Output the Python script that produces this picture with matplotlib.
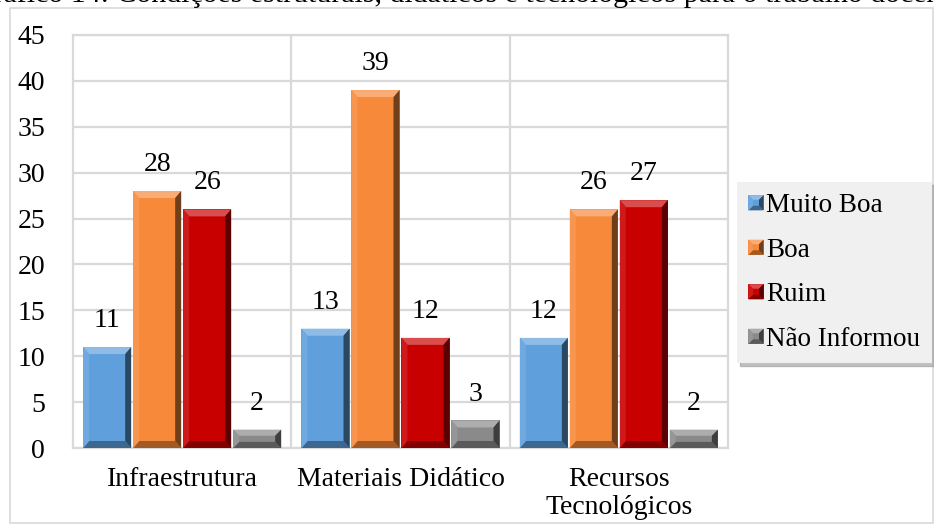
import matplotlib.pyplot as plt
import matplotlib.colors as mcolors
from matplotlib.patches import Polygon, Rectangle
from matplotlib.legend_handler import HandlerBase
import numpy as np

plt.rcParams['font.family'] = ['Liberation Serif', 'DejaVu Serif']

titulo = 'Gráfico 14: Condições estruturais, didáticos e tecnológicos para o trabalho docente'
categorias = ['Infraestrutura', 'Materiais Didático', 'Recursos\nTecnológicos']
series = ['Muito Boa', 'Boa', 'Ruim', 'Não Informou']
muito_boa = [11, 13, 12]
boa = [28, 39, 26]
ruim = [26, 12, 27]
nao_informou = [2, 3, 2]
cores = ['#5f9fdc', '#f7893a', '#c80000', '#8a8a8a']

valores = [muito_boa, boa, ruim, nao_informou]
FS = 20


def mix(cor, alvo, f):
    c = np.array(mcolors.to_rgb(cor))
    t = np.array(mcolors.to_rgb(alvo))
    return tuple(c + (t - c) * f)


def bevel_polys(x0, y0, w, h, bx, by):
    by = min(by, h / 3.0)
    x1, y1 = x0 + w, y0 + h
    return {
        'top': [(x0, y1), (x1, y1), (x1 - bx, y1 - by), (x0 + bx, y1 - by)],
        'bottom': [(x0, y0), (x1, y0), (x1 - bx, y0 + by), (x0 + bx, y0 + by)],
        'left': [(x0, y0), (x0 + bx, y0 + by), (x0 + bx, y1 - by), (x0, y1)],
        'right': [(x1, y0), (x1 - bx, y0 + by), (x1 - bx, y1 - by), (x1, y1)],
    }


def shades(cor):
    return {
        'top': mix(cor, 'white', 0.30),
        'left': mix(cor, 'white', 0.10),
        'right': mix(cor, 'black', 0.55),
        'bottom': mix(cor, 'black', 0.35),
    }


class BevelHandler(HandlerBase):
    def create_artists(self, legend, orig_handle, xdescent, ydescent,
                       width, height, fontsize, trans):
        cor = orig_handle.get_facecolor()
        s = min(width, height)
        x0 = width - s - xdescent
        y0 = (height - s) / 2 - ydescent
        arts = [Rectangle((x0, y0), s, s, facecolor=cor, edgecolor='none', transform=trans)]
        sh = shades(cor)
        for k, pts in bevel_polys(x0, y0, s, s, s * 0.3, s * 0.3).items():
            arts.append(Polygon(pts, closed=True, facecolor=sh[k], edgecolor='none', transform=trans))
        return arts


fig = plt.figure(figsize=(9.34, 5.27), dpi=100)
W, H = 934, 527
ax = fig.add_axes([73 / W, 1 - 448 / H, (728 - 73) / W, (448 - 35) / H])

x = np.arange(len(categorias))
passo = 0.229
largura = 0.220
ax.set_xlim(-0.5, 2.5)
ax.set_ylim(0, 45)

# bevel size in data units (about 7 px)
bx = 6 / (ax.bbox.width / 3.0)
by = 7 / (ax.bbox.height / 45.0)

barras = []
for i, (nome, vals, cor) in enumerate(zip(series, valores, cores)):
    pos = x + (i - 1.5) * passo
    b = ax.bar(pos, vals, largura, color=cor, label=nome, zorder=3)
    barras.append(b)
    sh = shades(cor)
    for rect, v in zip(b, vals):
        x0 = rect.get_x()
        polys = bevel_polys(x0, 0, largura, v, bx, by)
        for k, pts in polys.items():
            ax.add_patch(Polygon(pts, closed=True, facecolor=sh[k], edgecolor='none', zorder=4))
        ax.annotate(str(v), (x0 + largura / 2, v), xytext=(0, 19), textcoords='offset points',
                    ha='center', va='center', fontsize=FS, color='black')

ax.set_yticks(np.arange(0, 46, 5))
ax.set_xticks(x)
ax.set_xticklabels(categorias, fontsize=FS, linespacing=1.15)
ax.set_xticks([0.5, 1.5], minor=True)
ax.tick_params(axis='y', labelsize=FS, length=0, pad=20)
ax.tick_params(axis='x', which='both', length=0, pad=14)
ax.grid(axis='y', color='#d9d9d9', lw=1.6, zorder=0)
ax.grid(axis='x', which='minor', color='#d9d9d9', lw=1.6, zorder=0)
for s in ax.spines.values():
    s.set_color('#d9d9d9')
    s.set_linewidth(1.6)

leg = fig.legend(handles=[b.patches[0] for b in barras], labels=series,
                 handler_map={Rectangle: BevelHandler()},
                 loc='upper left', bbox_to_anchor=(737 / W, 1 - 182 / H),
                 fontsize=19.5, frameon=True, fancybox=False, shadow={'color': '#999999', 'alpha': 0.6},
                 handlelength=0.56, handleheight=0.51, handletextpad=0.1,
                 labelspacing=0.72, borderpad=0.42, borderaxespad=0)
leg.get_frame().set_facecolor('#f0f0f0')
leg.get_frame().set_edgecolor('none')

# outer chart border
fig.patches.append(Rectangle((10 / W, 1 - 523 / H), (933 - 10) / W, (523 - 8) / H,
                             transform=fig.transFigure, fill=False, edgecolor='#d9d9d9', lw=1.2))

fig.text(0.5, 1 - 2 / H, titulo, ha='center', va='baseline', fontsize=21.5)

fig.savefig('out.png', dpi=100)
